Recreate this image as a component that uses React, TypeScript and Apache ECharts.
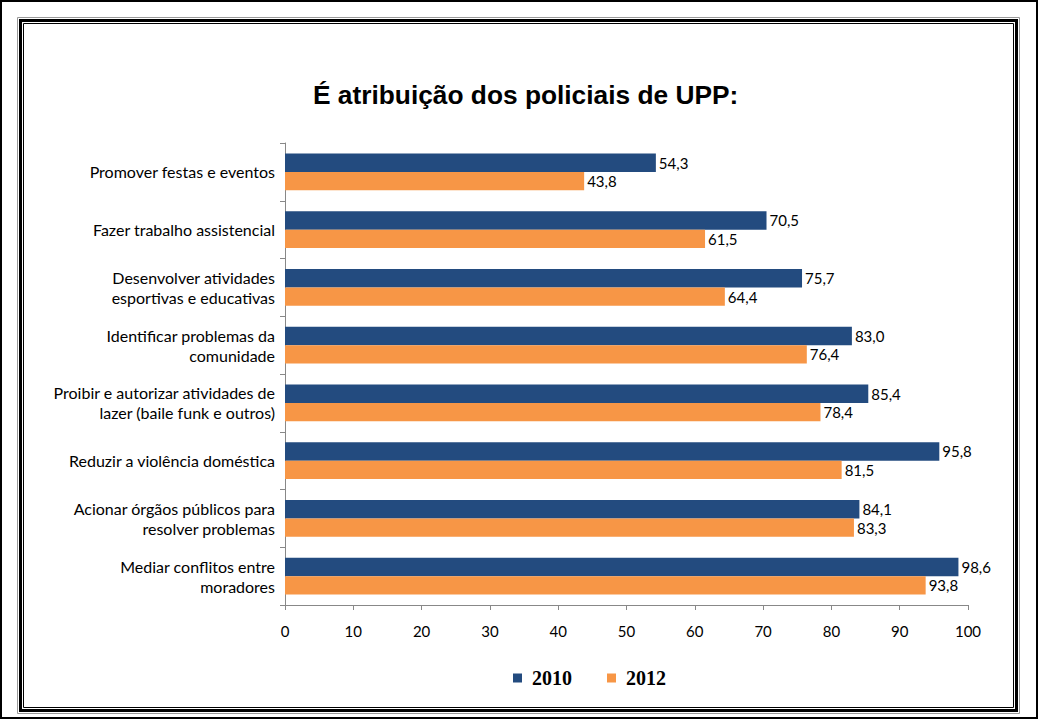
import React, { useEffect, useRef } from "react";
import * as echarts from "echarts";

const categories = [
  "Promover festas e eventos",
  "Fazer trabalho assistencial",
  "Desenvolver atividades\nesportivas e educativas",
  "Identificar problemas da\ncomunidade",
  "Proibir e autorizar atividades de\nlazer (baile funk e outros)",
  "Reduzir a violência doméstica",
  "Acionar órgãos públicos para\nresolver problemas",
  "Mediar conflitos entre\nmoradores",
];
const values2010 = [54.3, 70.5, 75.7, 83.0, 85.4, 95.8, 84.1, 98.6];
const values2012 = [43.8, 61.5, 64.4, 76.4, 78.4, 81.5, 83.3, 93.8];
const xTicks = { min: 0, max: 100, interval: 10 };
const titleText = "É atribuição dos policiais de UPP:";
const seriesNames = ["2010", "2012"];

const fmt = (v: number) => v.toFixed(1).replace(".", ",");

export default function App() {
  const ref = useRef<HTMLDivElement>(null);
  useEffect(() => {
    if (!ref.current) return;
    const chart = echarts.init(ref.current, null, { renderer: "svg" });
    const labelFont = "Lato";
    chart.setOption({
      animation: false,
      backgroundColor: "#ffffff",
      title: {
        text: titleText,
        left: 313,
        top: 82,
        padding: 0,
        textStyle: {
          fontFamily: "Liberation Sans",
          fontWeight: "bold",
          fontSize: 26.3,
          color: "#000",
        },
      },
      legend: {
        top: 668,
        left: 513,
        padding: 0,
        itemWidth: 9,
        itemHeight: 9,
        itemGap: 35,
        icon: "rect",
        formatter: (n: string) => " " + n,
        textStyle: {
          fontFamily: "Liberation Serif",
          fontWeight: "bold",
          fontSize: 20,
          color: "#000",
        },
        data: seriesNames,
      },
      grid: {
        left: 285,
        right: 71,
        top: 143,
        bottom: 115,
        containLabel: false,
        outerBoundsMode: "none",
      },
      xAxis: {
        type: "value",
        min: xTicks.min,
        max: xTicks.max,
        interval: xTicks.interval,
        splitLine: { show: false },
        axisLine: { show: true, lineStyle: { color: "#888", width: 1 } },
        axisTick: { show: true, length: 5, lineStyle: { color: "#888" } },
        axisLabel: {
          margin: 18,
          color: "#000",
          fontFamily: labelFont,
          fontSize: 15,
        },
      },
      yAxis: {
        type: "category",
        inverse: true,
        data: categories,
        axisLine: { show: true, lineStyle: { color: "#888", width: 1 } },
        axisTick: { show: true, length: 5, alignWithLabel: false, lineStyle: { color: "#888" } },
        axisLabel: {
          margin: 10,
          color: "#000",
          fontFamily: labelFont,
          fontSize: 16,
          lineHeight: 20,
          align: "right",
        },
      },
      series: [
        {
          name: seriesNames[0],
          type: "bar",
          data: values2010,
          barGap: "0%",
          barCategoryGap: "36%",
          itemStyle: { color: "#234B7F" },
          label: {
            show: true,
            position: "right",
            distance: 3,
            color: "#000",
            fontFamily: labelFont,
            fontSize: 15,
            formatter: (p: any) => fmt(p.value),
          },
        },
        {
          name: seriesNames[1],
          type: "bar",
          data: values2012,
          barGap: "0%",
          barCategoryGap: "36%",
          itemStyle: { color: "#F79646" },
          label: {
            show: true,
            position: "right",
            distance: 3,
            color: "#000",
            fontFamily: labelFont,
            fontSize: 15,
            formatter: (p: any) => fmt(p.value),
          },
        },
      ],
      graphic: [
        {
          type: "rect",
          silent: true,
          shape: { x: 1, y: 1, width: 1036, height: 717 },
          style: { fill: "none", stroke: "#000", lineWidth: 2 },
        },
        {
          type: "rect",
          silent: true,
          shape: { x: 20.5, y: 20.5, width: 996, height: 690 },
          style: { fill: "none", stroke: "#000", lineWidth: 3 },
        },
        {
          type: "rect",
          silent: true,
          shape: { x: 17.5, y: 17.5, width: 1002, height: 696 },
          style: { fill: "none", stroke: "#999", lineWidth: 1 },
        },
        {
          type: "rect",
          silent: true,
          shape: { x: 23.5, y: 23.5, width: 990, height: 684 },
          style: { fill: "none", stroke: "#000", lineWidth: 1 },
        },
      ],
    });
    return () => chart.dispose();
  }, []);
  return (
    <div
      ref={ref}
      style={{ position: "absolute", left: 0, top: 0, width: 1039, height: 720 }}
    />
  );
}
